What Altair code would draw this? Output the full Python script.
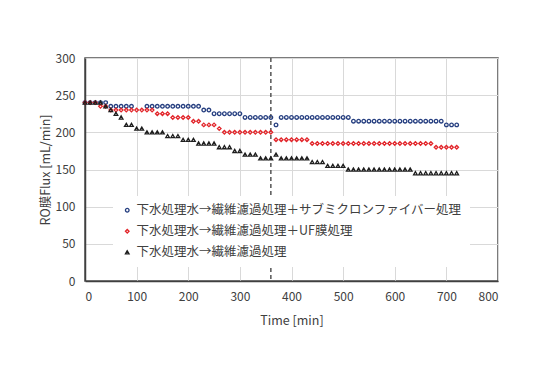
import altair as alt
import pandas as pd

time_min = [0, 10, 20, 30, 40, 50, 60, 70, 80, 90, 100, 110, 120, 130, 140, 150, 160, 170, 180, 190,
            200, 210, 220, 230, 240, 250, 260, 270, 280, 290, 300, 310, 320, 330, 340, 350, 360, 370, 380, 390,
            400, 410, 420, 430, 440, 450, 460, 470, 480, 490, 500, 510, 520, 530, 540, 550, 560, 570, 580, 590,
            600, 610, 620, 630, 640, 650, 660, 670, 680, 690, 700, 710, 720]

series_names = [
    "下水処理水→繊維濾過処理＋サブミクロンファイバー処理",
    "下水処理水→繊維濾過処理＋UF膜処理",
    "下水処理水→繊維濾過処理",
]

flux_submicron = [240, 240, 240, 240, 240, 235, 235, 235, 235, 235, None, None, 235, 235, 235, 235, 235, 235, 235, 235,
                  235, 235, 235, 230, 230, 225, 225, 225, 225, 225, 225, 220, 220, 220, 220, 220, 220, 210, 220, 220,
                  220, 220, 220, 220, 220, 220, 220, 220, 220, 220, 220, 220, 215, 215, 215, 215, 215, 215, 215, 215,
                  215, 215, 215, 215, 215, 215, 215, 215, 215, 215, 210, 210, 210]

flux_uf = [240, 240, 240, 235, 235, 230, 230, 230, 230, 230, 230, 230, 230, 230, 225, 225, 225, 220, 220, 220,
           220, 215, 215, 210, 210, 210, 205, 200, 200, 200, 200, 200, 200, 200, 200, 200, 200, 190, 190, 190,
           190, 190, 190, 190, 185, 185, 185, 185, 185, 185, 185, 185, 185, 185, 185, 185, 185, 185, 185, 185,
           185, 185, 185, 185, 185, 185, 185, 185, 180, 180, 180, 180, 180]

flux_fiber = [240, 240, 240, 240, 235, 230, 225, 220, 210, 210, 205, 205, 200, 200, 200, 200, 195, 195, 195, 190,
              190, 190, 185, 185, 185, 185, 180, 180, 180, 175, 175, 170, 170, 170, 165, 165, 165, 170, 165, 165,
              165, 165, 165, 165, 160, 160, 160, 155, 155, 155, 155, 150, 150, 150, 150, 150, 150, 150, 150, 150,
              150, 150, 150, 150, 145, 145, 145, 145, 145, 145, 145, 145, 145]

divider_time = [360]

series_colors = ["#263F80", "#E2262B", "#1E1E1E"]
series_shapes = ["circle", "diamond", "triangle-up"]

rows = []
for name, vals in zip(series_names, [flux_submicron, flux_uf, flux_fiber]):
    for t, v in zip(time_min, vals):
        if v is not None:
            rows.append({"time": t, "flux": v, "series": name})
df = pd.DataFrame(rows)

FONT = "Noto Sans CJK JP"

x_enc = alt.X("time:Q", title="Time [min]",
              scale=alt.Scale(domain=[0, 800], nice=False),
              axis=alt.Axis(values=[0, 100, 200, 300, 400, 500, 600, 700, 800]))
y_enc = alt.Y("flux:Q", title="RO膜Flux [mL/min]",
              scale=alt.Scale(domain=[0, 300], nice=False),
              axis=alt.Axis(values=[0, 50, 100, 150, 200, 250, 300]))

points = alt.Chart(df).mark_point(filled=False, size=13, strokeWidth=1.3, opacity=1).encode(
    x=x_enc,
    y=y_enc,
    color=alt.Color("series:N", sort=series_names,
                    scale=alt.Scale(domain=series_names, range=series_colors),
                    legend=alt.Legend(title=None, orient="none", legendX=28, legendY=138,
                                      fillColor="white", padding=8, rowPadding=8,
                                      labelFont=FONT, labelFontSize=12.5, labelColor="#404040",
                                      labelOffset=3, symbolSize=13, symbolStrokeWidth=1.3,
                                      labelLimit=500)),
    shape=alt.Shape("series:N", sort=series_names,
                    scale=alt.Scale(domain=series_names, range=series_shapes)),
)

rule = alt.Chart(pd.DataFrame({"time": divider_time})).mark_rule(
    color="#555555", strokeDash=[4, 3], strokeWidth=1.5
).encode(x=alt.X("time:Q", scale=alt.Scale(domain=[0, 800], nice=False)))

chart = alt.layer(rule, points).properties(
    width=413, height=223,
    background="white",
    autosize=alt.AutoSizeParams(type="none"),
    padding={"left": 77, "top": 50, "right": 30, "bottom": 60},
).configure_view(
    stroke="#505050", strokeWidth=1.5
).configure_axis(
    labelFont=FONT, labelFontSize=12, labelColor="#404040",
    titleFont=FONT, titleFontSize=12.5, titleFontWeight="normal", titleColor="#404040",
    gridColor="#D9D9D9", gridWidth=1,
    domainColor="#404040", domainWidth=1.5,
    ticks=False, labelPadding=10,
).configure_axisY(
    titlePadding=3
).configure_axisX(
    titlePadding=12
)

chart.save("out.html", embed_options={"renderer": "svg", "actions": False})
